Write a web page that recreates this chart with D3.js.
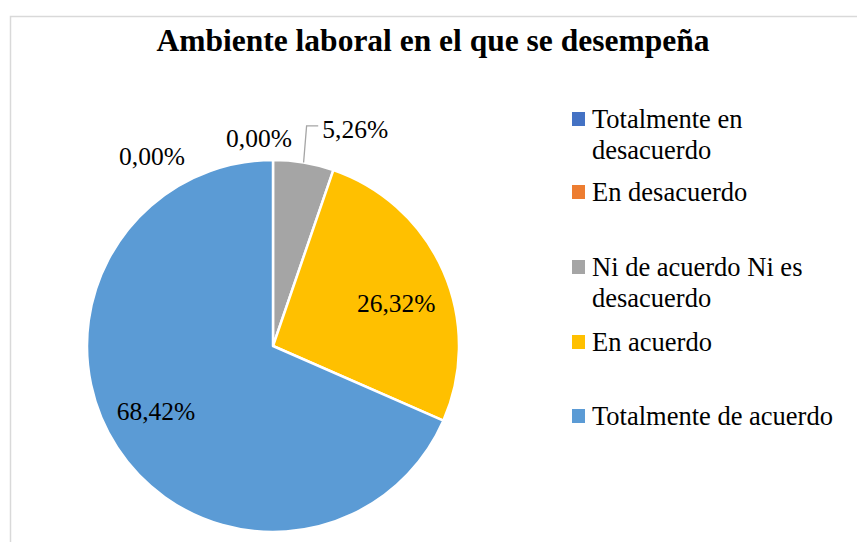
<!DOCTYPE html>
<html>
<head>
<meta charset="utf-8">
<script src="https://cdn.jsdelivr.net/npm/d3@7/dist/d3.min.js"></script>
<style>
  html, body { margin: 0; padding: 0; background: #fff; }
  svg { display: block; }
</style>
</head>
<body>
<svg id="chart" width="857" height="542"></svg>
<script>
// ---- data ----
const title = "Ambiente laboral en el que se desempeña";
const categories = [
  "Totalmente en desacuerdo",
  "En desacuerdo",
  "Ni de acuerdo Ni es desacuerdo",
  "En acuerdo",
  "Totalmente de acuerdo"
];
const legendLines = [
  ["Totalmente en", "desacuerdo"],
  ["En desacuerdo"],
  ["Ni de acuerdo Ni es", "desacuerdo"],
  ["En acuerdo"],
  ["Totalmente de acuerdo"]
];
const values = [0.00, 0.00, 5.26, 26.32, 68.42];
const labels = ["0,00%", "0,00%", "5,26%", "26,32%", "68,42%"];
const colors = ["#4472c4", "#ed7d31", "#a5a5a5", "#ffc000", "#5b9bd5"];

// ---- layout ----
const W = 857, H = 542;
const cx = 273, cy = 346, R = 186;
const FONT = "'Liberation Serif', Tinos, 'Times New Roman', 'DejaVu Serif', serif";
const svg = d3.select("#chart").attr("font-family", FONT);

// outer border
svg.append("rect").attr("x", 10.5).attr("y", 16.5).attr("width", W + 20).attr("height", H + 20)
  .attr("fill", "none").attr("stroke", "#d9d9d9").attr("stroke-width", 1.5);

svg.append("text").attr("x", 433).attr("y", 51).attr("text-anchor", "middle")
  .attr("font-family", FONT)
  .attr("font-weight", "bold").attr("font-size", 31.5).text(title);

const pie = d3.pie().sort(null).value(d => d)(values);
const arc = d3.arc().innerRadius(0).outerRadius(R);
const g = svg.append("g").attr("transform", `translate(${cx},${cy})`);

g.selectAll("path.slice").data(pie).join("path")
  .attr("class", "slice")
  .attr("d", arc)
  .attr("fill", (d, i) => colors[i])
  .attr("stroke", "#fff").attr("stroke-width", 2.5).attr("stroke-linejoin", "round");

// label placement: inside for big slices, outside for small ones
const inArc = d3.arc().innerRadius(R * 0.7).outerRadius(R * 0.7);
const outOffsets = [[-121, 19], [-14, 1], [48, -11]];   // nudges for outside labels (px)
const inOffsets = [null, null, null, [4, 10], [-8, -5]];
const fontSize = 25.5;
pie.forEach((d, i) => {
  const mid = (d.startAngle + d.endAngle) / 2;
  if (values[i] >= 10) {
    const [x, y] = inArc.centroid(d);
    const [ox, oy] = inOffsets[i];
    g.append("text").attr("x", x + ox).attr("y", y + oy + 8).attr("text-anchor", "middle")
      .attr("font-family", FONT).attr("font-size", fontSize).text(labels[i]);
  } else {
    const rr = R + 22;
    const bx = Math.sin(mid) * rr, by = -Math.cos(mid) * rr;
    const [ox, oy] = outOffsets[i];
    const lx = bx + ox, ly = by + oy;
    g.append("text").attr("x", lx).attr("y", ly + 8).attr("text-anchor", "middle")
      .attr("font-family", FONT).attr("font-size", fontSize).text(labels[i]);
    if (values[i] > 0) {
      const sx = Math.sin(mid) * R, sy = -Math.cos(mid) * R;
      const ey = ly - 4;
      const ex = sx + 3;
      g.append("polyline")
        .attr("points", `${sx},${sy} ${ex},${ey} ${lx - 37},${ey}`)
        .attr("fill", "none").attr("stroke", "#a5a5a5").attr("stroke-width", 1.3);
    }
  }
});

// legend
const legX = 572, legY0 = [120, 193, 268, 343, 417];
const legFont = 26.5;
const lg = svg.append("g");
categories.forEach((c, i) => {
  const y = legY0[i];
  lg.append("rect").attr("x", legX).attr("y", y - 8).attr("width", 13).attr("height", 14)
    .attr("fill", colors[i]);
  legendLines[i].forEach((ln, j) => {
    lg.append("text").attr("x", legX + 20).attr("y", y + 8 + j * 31)
      .attr("font-family", FONT).attr("font-size", legFont).text(ln);
  });
});
</script>
</body>
</html>
